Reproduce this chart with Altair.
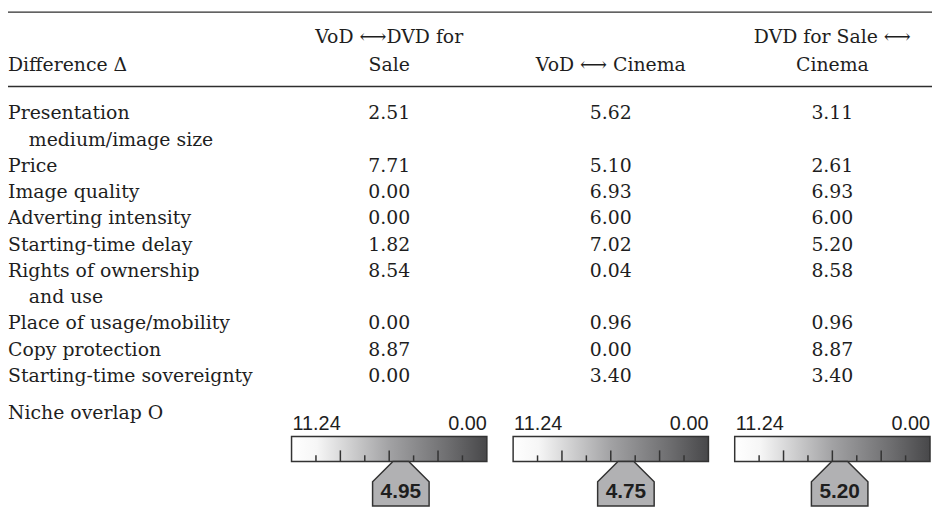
import altair as alt
import pandas as pd

# ---------------- data ----------------
row_labels = ["Presentation", "Price", "Image quality", "Adverting intensity",
              "Starting-time delay", "Rights of ownership", "Place of usage/mobility",
              "Copy protection", "Starting-time sovereignty"]
row_continuations = ["medium/image size", "", "", "", "", "and use", "", "", ""]
row_lines = [0, 2, 3, 4, 5, 6, 8, 9, 10]          # text line on which each row starts
pair_headers_top = ["VoD \u27f7DVD for", "", "DVD for Sale \u27f7"]
pair_headers_bottom = ["Sale", "VoD \u27f7 Cinema", "Cinema"]
vod_dvd = [2.51, 7.71, 0.00, 0.00, 1.82, 8.54, 0.00, 8.87, 0.00]
vod_cinema = [5.62, 5.10, 6.93, 6.00, 7.02, 0.04, 0.96, 0.00, 3.40]
dvd_cinema = [3.11, 2.61, 6.93, 6.00, 5.20, 8.58, 0.96, 8.87, 3.40]
niche_overlap = [4.95, 4.75, 5.20]
scale_max = 11.24
scale_min = 0.00
n_tick_steps = 8

# ---------------- layout ----------------
W, H = 932, 512
LINE = 26.5
Y_TOP = -104 / LINE
Y_BOT = (H - 104) / LINE
COLW = 223.5
X_LEFT = 1 - 384.5 / COLW
X_RIGHT = 1 + (W - 384.5) / COLW
HW = 98.5 / COLW  # gauge half width in column units

SERIF = "DejaVu Serif"
SANS = "Liberation Sans"
INK = "#1e1e1e"
FS = 19

xs = alt.Scale(domain=[X_LEFT, X_RIGHT], nice=False, zero=False)
ys = alt.Scale(domain=[Y_TOP, Y_BOT], nice=False, zero=False, reverse=True)

def X(f="x"):
    return alt.X(f"{f}:Q", scale=xs, axis=None)

def Y(f="y"):
    return alt.Y(f"{f}:Q", scale=ys, axis=None)

# table values
cols = [vod_dvd, vod_cinema, dvd_cinema]
cells = pd.DataFrame([
    {"x": j + 1, "y": row_lines[i], "t": f"{cols[j][i]:.2f}"}
    for j in range(3) for i in range(len(row_labels))
])

labels = pd.DataFrame({"x": X_LEFT, "y": row_lines, "t": row_labels})
labels = pd.concat([labels, pd.DataFrame([{"x": X_LEFT, "y": 11.4, "t": "Niche overlap O"},
                                          {"x": X_LEFT, "y": -1.85, "t": "Difference \u0394"}])])
conts = pd.DataFrame({"x": X_LEFT, "y": [l + 1 for l in row_lines], "t": row_continuations})
conts = conts[conts.t != ""]

heads = pd.DataFrame(
    [{"x": j + 1, "y": -2.9, "t": pair_headers_top[j]} for j in range(3) if pair_headers_top[j]] +
    [{"x": j + 1, "y": -1.85, "t": pair_headers_bottom[j]} for j in range(3)]
)

rules = pd.DataFrame({"x": [X_LEFT, X_LEFT], "x2": [X_RIGHT, X_RIGHT], "y": [-3.85, -1.02]})

gauges = pd.DataFrame({"c": [1, 2, 3], "v": niche_overlap})
gauges["x"] = gauges.c - HW
gauges["x2"] = gauges.c + HW
gauges["y"] = 12.3
gauges["y2"] = 13.25
gauges["p"] = gauges.c - HW + (scale_max - gauges.v) / (scale_max - scale_min) * 2 * HW
gauges["t"] = gauges.v.map(lambda v: f"{v:.2f}")
gauges["lo"] = f"{scale_max:.2f}"
gauges["hi"] = f"{scale_min:.2f}"

ticks = pd.DataFrame([
    {"x": c - HW + k / n_tick_steps * 2 * HW, "y": 12.83 if k % 2 == 0 else 13.02, "y2": 13.25}
    for c in [1, 2, 3] for k in range(1, n_tick_steps)
])

base_text = dict(font=SERIF, fontSize=FS, color=INK, baseline="middle")

l_cells = alt.Chart(cells).mark_text(align="center", **base_text).encode(x=X(), y=Y(), text="t:N")
l_labels = alt.Chart(labels).mark_text(align="left", **base_text).encode(x=X(), y=Y(), text="t:N")
l_conts = alt.Chart(conts).mark_text(align="left", dx=21, **base_text).encode(x=X(), y=Y(), text="t:N")
l_heads = alt.Chart(heads).mark_text(align="center", **base_text).encode(x=X(), y=Y(), text="t:N")
l_rules = alt.Chart(rules).mark_rule(color="#2e2e2e", strokeWidth=1.3).encode(
    x=X(), x2="x2:Q", y=Y())

grad = alt.LinearGradient(
    gradient="linear",
    stops=[alt.GradientStop(color="#ffffff", offset=0),
           alt.GradientStop(color="#f6f6f6", offset=0.13),
           alt.GradientStop(color="#a2a2a4", offset=0.5),
           alt.GradientStop(color="#6e6e70", offset=0.8),
           alt.GradientStop(color="#48484a", offset=1)],
    x1=0, x2=1, y1=0, y2=0)

l_box = alt.Chart(gauges).mark_rect(fill=grad, stroke="#333333", strokeWidth=1.5).encode(
    x=X(), x2="x2:Q", y=Y(), y2="y2:Q")
l_ticks = alt.Chart(ticks).mark_rule(color="#333333", strokeWidth=1.5).encode(
    x=X(), y=Y(), y2="y2:Q")
l_lo = alt.Chart(gauges).mark_text(align="left", baseline="middle", font=SANS, fontSize=20,
                                   color=INK, dx=1).encode(
    x=X("x"), y=alt.Y("yl:Q", scale=ys, axis=None), text="lo:N").transform_calculate(yl="11.81")
l_hi = alt.Chart(gauges).mark_text(align="right", baseline="middle", font=SANS, fontSize=20,
                                   color=INK).encode(
    x=X("x2"), y=alt.Y("yl:Q", scale=ys, axis=None), text="hi:N").transform_calculate(yl="11.81")

# pointer: pentagon anchored at its top-centre (unit = sqrt(size)/2 px = 28.5 px)
pointer_path = "M -0.28 0 L 0.28 0 L 1 0.72 L 1 1.58 L -1 1.58 L -1 0.72 Z"
l_ptr = alt.Chart(gauges).mark_point(shape=pointer_path, size=57 * 57, filled=True,
                                     color="#b1b1b3", opacity=1, stroke="#333333",
                                     strokeWidth=1.5).encode(
    x=X("p"), y=Y("y2"))
l_ptxt = alt.Chart(gauges).mark_text(align="center", baseline="middle", font=SANS, fontSize=21,
                                     fontWeight="bold", color="#1e1e1e").encode(
    x=X("p"), y=alt.Y("yt:Q", scale=ys, axis=None), text="t:N").transform_calculate(yt="14.42")

chart = alt.layer(
    l_rules, l_heads, l_labels, l_conts, l_cells,
    l_box, l_ticks, l_lo, l_hi, l_ptr, l_ptxt
).properties(width=W, height=H, autosize="none", padding=0).configure_view(stroke=None)

chart.save("out.html", embed_options={"renderer": "svg", "actions": False})
